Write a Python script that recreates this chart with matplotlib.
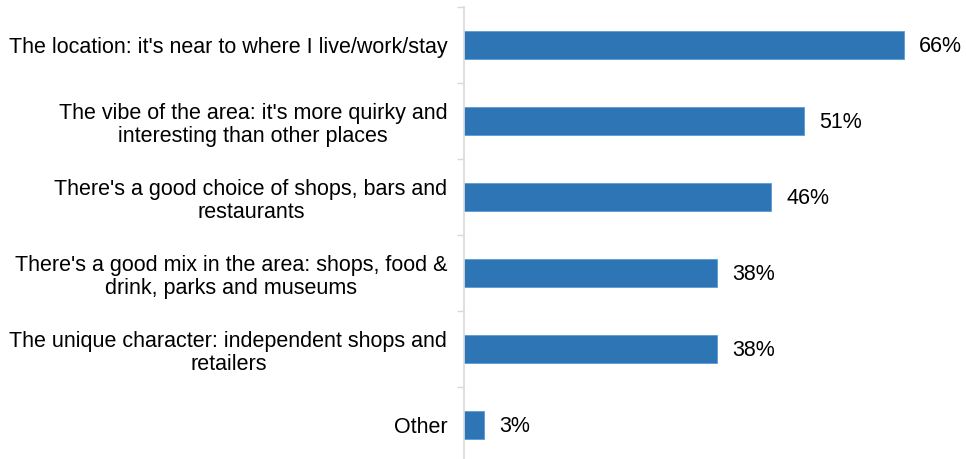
import matplotlib
matplotlib.use("Agg")
from matplotlib import pyplot as plt
import numpy as np

plt.rcParams['font.family'] = ['Liberation Sans', 'DejaVu Sans']

# reasons, top to bottom
reasons = [
    "The location: it's near to where I live/work/stay",
    "The vibe of the area: it's more quirky and\ninteresting than other places",
    "There's a good choice of shops, bars and\nrestaurants",
    "There's a good mix in the area: shops, food &\ndrink, parks and museums",
    "The unique character: independent shops and\nretailers",
    "Other",
]
shares = [66, 51, 46, 38, 38, 3]

fig = plt.figure(figsize=(9.66, 4.59), dpi=100)
ax = fig.add_axes([464 / 966, -4 / 459, 486 / 966, 456 / 459])

y = np.arange(len(reasons))
ax.barh(y, shares, height=0.38, color='#2E75B6', edgecolor='#5B9BD5', linewidth=0.6)

for yi, v in zip(y, shares):
    ax.text(v + 2.3, yi + 0.02, "{}%".format(v), va='center', ha='left',
            fontsize=15.5, color='#000000')

ax.set_xlim(0, 486 / 6.667)
ax.set_ylim(len(reasons) - 0.5, -0.5)

ax.set_yticks(y)
ax.set_yticklabels(reasons, fontsize=15.5, linespacing=1.17,
                   multialignment='center')
ax.set_yticks(np.arange(len(reasons) + 1) - 0.5, minor=True)
ax.tick_params(axis='y', which='major', length=0, pad=12)
ax.tick_params(axis='y', which='minor', length=5, width=1, color='#D9D9D9')
ax.set_xticks([])

for s in ['top', 'right', 'bottom']:
    ax.spines[s].set_visible(False)
ax.spines['left'].set_color('#D9D9D9')
ax.spines['left'].set_linewidth(1.2)

fig.savefig('out.png', dpi=100)
